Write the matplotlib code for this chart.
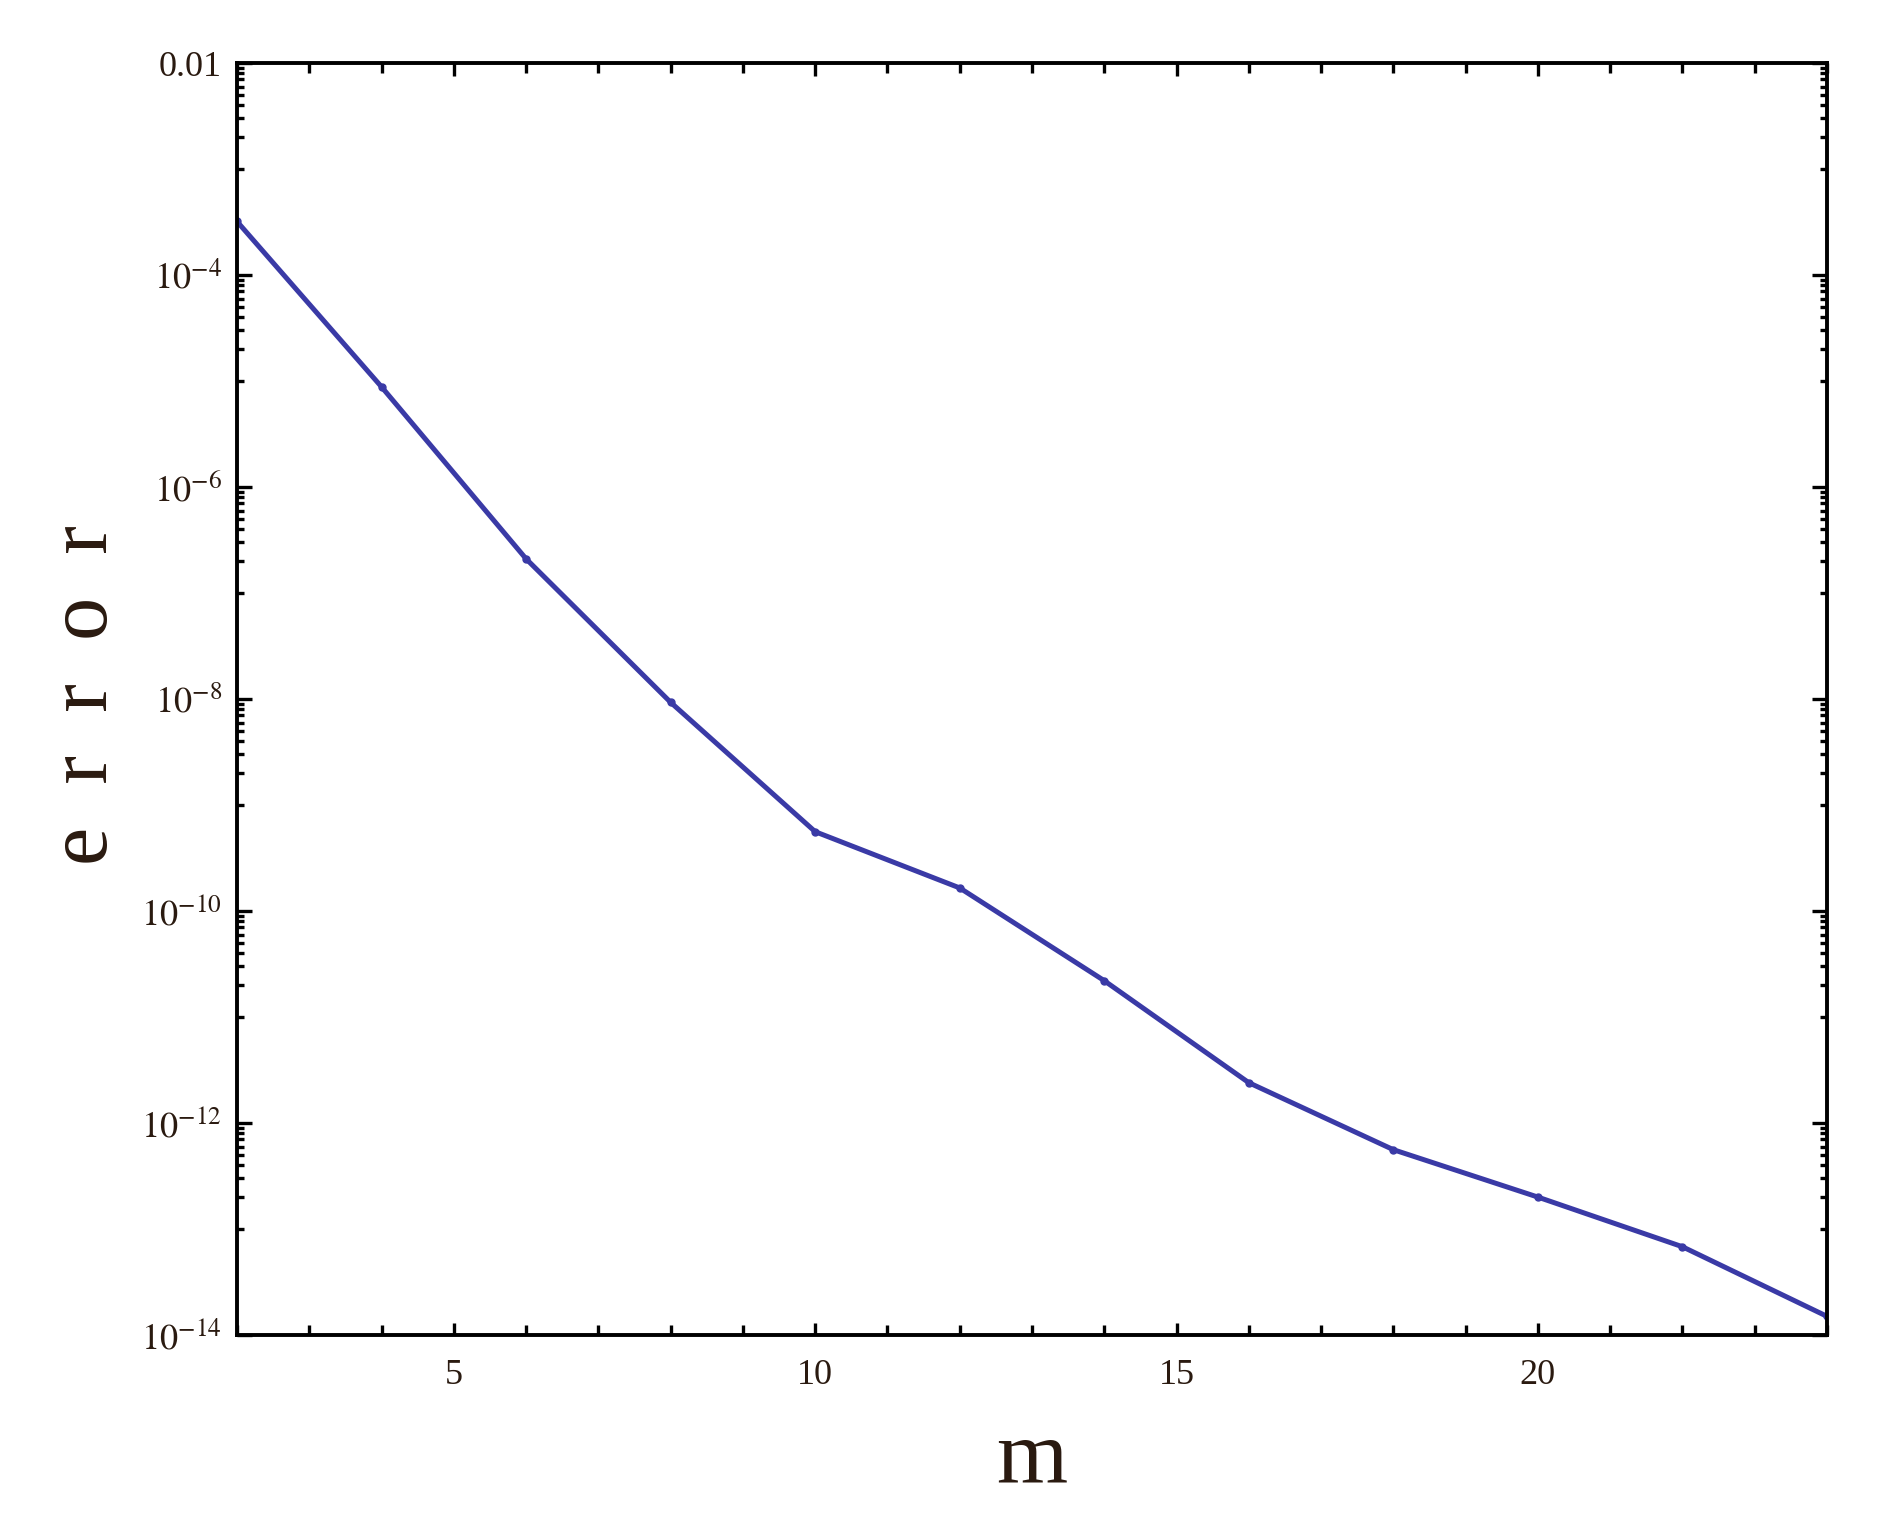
import matplotlib
matplotlib.use("Agg")
import matplotlib.pyplot as plt
from matplotlib.ticker import FixedLocator, MultipleLocator, FixedFormatter

# error vs. m
m = [2, 4, 6, 8, 10, 12, 14, 16, 18, 20, 22, 24]
error = [3.2e-4, 8.8e-6, 2.1e-7, 9.3e-9, 5.6e-10, 1.65e-10,
         2.2e-11, 2.4e-12, 5.6e-13, 2.0e-13, 6.8e-14, 1.5e-14]

y_major = [1e-2, 1e-4, 1e-6, 1e-8, 1e-10, 1e-12, 1e-14]
y_labels = ["0.01", "$10^{-4}$", "$10^{-6}$", "$10^{-8}$",
            "$10^{-10}$", "$10^{-12}$", "$10^{-14}$"]
x_major = [5, 10, 15, 20]

plt.rcParams["font.family"] = ["Liberation Serif", "DejaVu Serif"]
plt.rcParams["mathtext.fontset"] = "stix"

text_color = "#2a1a10"
line_color = "#3a3aa6"

fig = plt.figure(figsize=(18.82, 15.26), dpi=100)
ax = fig.add_axes([237 / 1882, 1 - 1335 / 1526, 1590 / 1882, 1272 / 1526])

ax.plot(m, error, color=line_color, lw=3.6, marker="o", ms=5,
        solid_joinstyle="round")
ax.set_yscale("log")
ax.set_xlim(2, 24)
ax.set_ylim(1e-14, 1e-2)

# minor ticks only in the odd decades, like the Mathematica original
y_minor = []
for e in range(-3, -14, -2):
    for k in range(1, 10):
        y_minor.append(k * 10.0 ** e)
ax.yaxis.set_major_locator(FixedLocator(y_major))
ax.yaxis.set_major_formatter(FixedFormatter(y_labels))
ax.yaxis.set_minor_locator(FixedLocator(y_minor))
ax.yaxis.set_minor_formatter(FixedFormatter([""] * len(y_minor)))

ax.xaxis.set_major_locator(FixedLocator(x_major))
ax.xaxis.set_minor_locator(MultipleLocator(1))

ax.tick_params(axis="both", which="both", direction="in", top=True, right=True,
               colors="black", labelcolor=text_color, width=2.4)
ax.tick_params(axis="y", which="major", length=11, labelsize=26, pad=11)
ax.tick_params(axis="y", which="minor", length=5)
ax.tick_params(axis="x", which="major", length=9, labelsize=26, pad=17)
ax.tick_params(axis="x", which="minor", length=7)

for s in ax.spines.values():
    s.set_linewidth(2.8)

fig.text(1032 / 1882, 1 - 1482 / 1526, "m", fontsize=66, color=text_color,
         ha="center", va="baseline")
sp = "\u2002"
fig.text(107 / 1882, 1 - 695 / 1526, sp.join("error"), fontsize=62,
         color=text_color, rotation=90, rotation_mode="anchor",
         ha="center", va="baseline")

plt.savefig("out.png", dpi=100, facecolor="white")
